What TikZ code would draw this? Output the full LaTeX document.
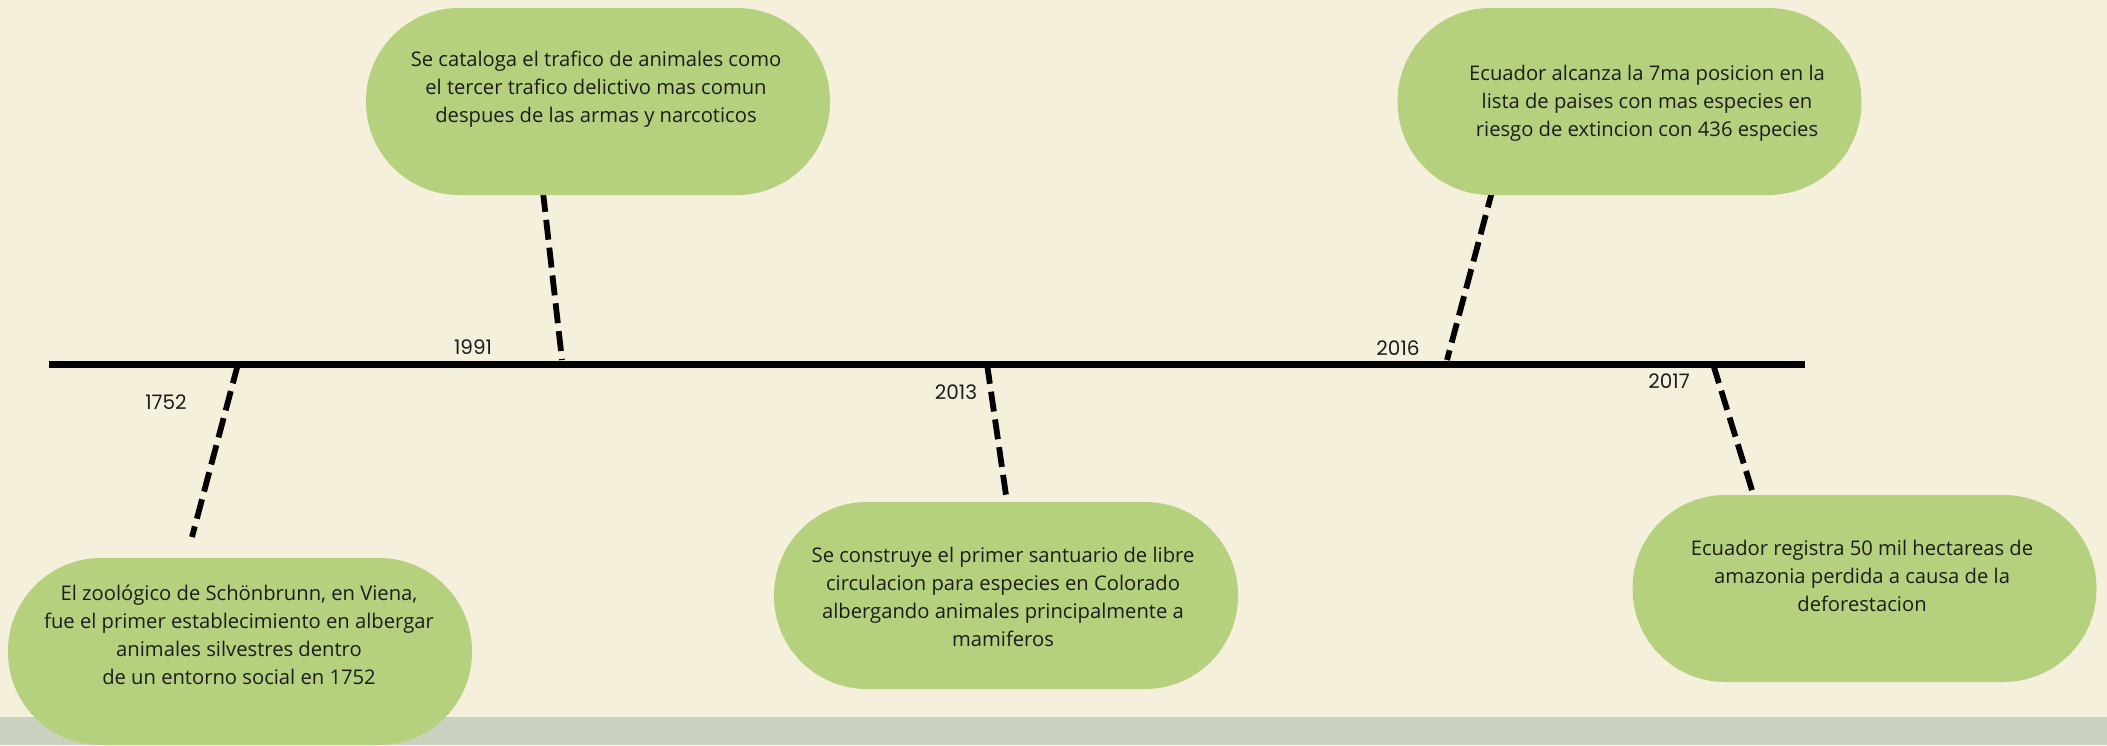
\documentclass[tikz,border=0pt]{standalone}
\usepackage{fontspec}
\newfontfamily\boxfont{Open Sans}
\newfontfamily\yearfont{Poppins}
\definecolor{cream}{HTML}{F4F0DC}
\definecolor{sage}{HTML}{C9D2BF}
\definecolor{leaf}{HTML}{B5D17E}
\definecolor{ink}{HTML}{1C1C1C}
\tikzset{
  event/.style={fill=leaf, draw=none, minimum width=232pt, minimum height=93.5pt, rounded corners=46.5pt, inner sep=0pt},
  evtext/.style={align=center, inner sep=0pt, text=ink, font=\boxfont\fontsize{10.1}{14}\selectfont},
  year/.style={inner sep=0pt, text=ink, font=\yearfont\fontsize{10}{12}\selectfont},
  leader/.style={line width=2.9pt, dash pattern=on 10pt off 4pt},
  timeline/.style={line width=3.5pt}
}

\begin{document}
\begin{tikzpicture}[x=0.5pt, y=-0.5pt]
\useasboundingbox (0,0) rectangle (2107,745);
\fill[cream] (0,0) rectangle (2107,745);
\fill[sage] (0,717) rectangle (2107,745);
\coordinate (tl-start) at (49,364);
\coordinate (tl-end) at (1805,364);
\draw[timeline] (tl-start) -- (tl-end);
\coordinate (a1752) at (238,364); \coordinate (b1752) at (192,537);
\coordinate (a1991) at (562,360); \coordinate (b1991) at (543,192);
\coordinate (a2013) at (987,364); \coordinate (b2013) at (1007,502);
\coordinate (a2016) at (1447,360); \coordinate (b2016) at (1493,188);
\coordinate (a2017) at (1713,364); \coordinate (b2017) at (1755,500);
\draw[leader] (a1752) -- (b1752);
\draw[leader] (b1991) -- (a1991);
\draw[leader] (a2013) -- (b2013);
\draw[leader] (b2016) -- (a2016);
\draw[leader] (a2017) -- (b2017);
\node[event] (e1991) at (598,101.5) {};
\node[event] (e2016) at (1629.5,101.5) {};
\node[event] (e1752) at (240,651.5) {};
\node[event] (e2013) at (1006,595.5) {};
\node[event] (e2017) at (1864.5,588.5) {};
\node[evtext] (t1991) at (596,89.5) {Se cataloga el trafico de animales como\\el tercer trafico delictivo mas comun\\despues de las armas y narcoticos};
\node[evtext] (t2016) at (1647,103.5) {Ecuador alcanza la 7ma posicion en la\\lista de paises con mas especies en\\riesgo de extincion con 436 especies};
\node[evtext] (t1752) at (239,634.5) {El zoológico de Schönbrunn, en Viena,\\fue el primer establecimiento en albergar\\animales silvestres dentro\\de un entorno social en 1752};
\node[evtext] (t2013) at (1003,597) {Se construye el primer santuario de libre\\circulacion para especies en Colorado\\albergando animales principalmente a\\mamiferos};
\node[evtext] (t2017) at (1862,576) {Ecuador registra 50 mil hectareas de\\amazonia perdida a causa de la\\deforestacion};
\node[year] (y1752) at (166,402) {1752};
\node[year] (y1991) at (473,347) {1991};
\node[year] (y2013) at (956,392) {2013};
\node[year] (y2016) at (1398,348) {2016};
\node[year] (y2017) at (1669,381) {2017};
\end{tikzpicture}
\end{document}
